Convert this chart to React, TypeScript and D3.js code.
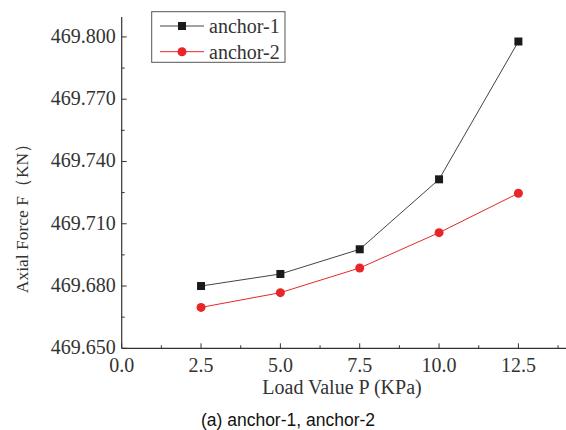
import React from "react";
import * as d3 from "d3";

const loads = [2.5, 5.0, 7.5, 10.0, 12.5];
const anchor1 = [469.68, 469.6858, 469.6977, 469.7314, 469.7978];
const anchor2 = [469.6697, 469.6768, 469.6887, 469.7057, 469.7247];
const xTicks = [0, 2.5, 5, 7.5, 10, 12.5];
const xMinor = [1.25, 3.75, 6.25, 8.75, 11.25, 13.75];
const yTicks = [469.65, 469.68, 469.71, 469.74, 469.77, 469.8];
const yMinor = [469.665, 469.695, 469.725, 469.755, 469.785];
const seriesNames = ["anchor-1", "anchor-2"];

const W = 566, H = 430;
const serif = "'Liberation Serif', 'Times New Roman', serif";
const sans = "'Liberation Sans', Arial, sans-serif";

export default function App() {
  const x = d3.scaleLinear().domain([0, 14]).range([121.7, 566]);
  const y = d3.scaleLinear().domain([469.65, 469.8096]).range([348.3, 17]);
  const line = d3.line<[number, number]>().x(d => x(d[0])).y(d => y(d[1]));
  const d1 = loads.map((l, i) => [l, anchor1[i]] as [number, number]);
  const d2 = loads.map((l, i) => [l, anchor2[i]] as [number, number]);
  const c1 = "#1a1a1a", c2 = "#e8262a";
  const x0 = x(0), yb = y(469.65);
  return (
    <svg width={W} height={H} style={{ position: "absolute", left: 0, top: 0, background: "#fff" }}>
      {/* axes */}
      <line x1={x0} x2={x0} y1={y.range()[1]} y2={yb} stroke="#333" strokeWidth={1.2} />
      <line x1={x0} x2={x.range()[1]} y1={yb} y2={yb} stroke="#333" strokeWidth={1.2} />
      {yTicks.map(t => (
        <g key={"y" + t}>
          <line x1={x0} x2={x0 + 5} y1={y(t)} y2={y(t)} stroke="#333" />
          <text x={x0 - 6} y={y(t)} dy="0.3em" textAnchor="end" fontFamily={serif} fontSize={20} fill="#333">{t.toFixed(3)}</text>
        </g>
      ))}
      {yMinor.map(t => (
        <line key={"ym" + t} x1={x0} x2={x0 + 3} y1={y(t)} y2={y(t)} stroke="#333" />
      ))}
      {xTicks.map(t => (
        <g key={"x" + t}>
          <line x1={x(t)} x2={x(t)} y1={yb} y2={yb - 5} stroke="#333" />
          <text x={x(t)} y={yb + 24} textAnchor="middle" fontFamily={serif} fontSize={20} fill="#333">{t.toFixed(1)}</text>
        </g>
      ))}
      {xMinor.map(t => (
        <line key={"xm" + t} x1={x(t)} x2={x(t)} y1={yb} y2={yb - 3} stroke="#333" />
      ))}
      {/* axis titles */}
      <text x={342} y={394} textAnchor="middle" fontFamily={serif} fontSize={20} fill="#333">Load Value P (KPa)</text>
      <text transform={`translate(28, ${214}) rotate(-90)`} textAnchor="middle" fontFamily={serif} fontSize={17.5} fill="#333">Axial Force F（KN）</text>
      {/* series */}
      <path d={line(d1) || ""} fill="none" stroke="#444" strokeWidth={1} />
      <path d={line(d2) || ""} fill="none" stroke={c2} strokeWidth={1} />
      {d1.map((p, i) => (
        <rect key={"s" + i} x={x(p[0]) - 4} y={y(p[1]) - 4} width={8} height={8} fill={c1} />
      ))}
      {d2.map((p, i) => (
        <circle key={"c" + i} cx={x(p[0])} cy={y(p[1])} r={4.5} fill={c2} />
      ))}
      {/* legend */}
      <rect x={151.7} y={11.7} width={133.3} height={50.6} fill="#fff" stroke="#555" strokeWidth={1} />
      <line x1={160} x2={204} y1={26} y2={26} stroke="#444" />
      <rect x={178} y={22} width={8} height={8} fill={c1} />
      <text x={209} y={26} dy="0.35em" fontFamily={serif} fontSize={20} fill="#333">{seriesNames[0]}</text>
      <line x1={160} x2={204} y1={51.7} y2={51.7} stroke={c2} />
      <circle cx={182} cy={51.7} r={4.5} fill={c2} />
      <text x={209} y={51.7} dy="0.35em" fontFamily={serif} fontSize={20} fill="#333">{seriesNames[1]}</text>
      {/* caption */}
      <text x={288} y={426} textAnchor="middle" fontFamily={sans} fontSize={17.5} fill="#111">(a) anchor-1, anchor-2</text>
    </svg>
  );
}
